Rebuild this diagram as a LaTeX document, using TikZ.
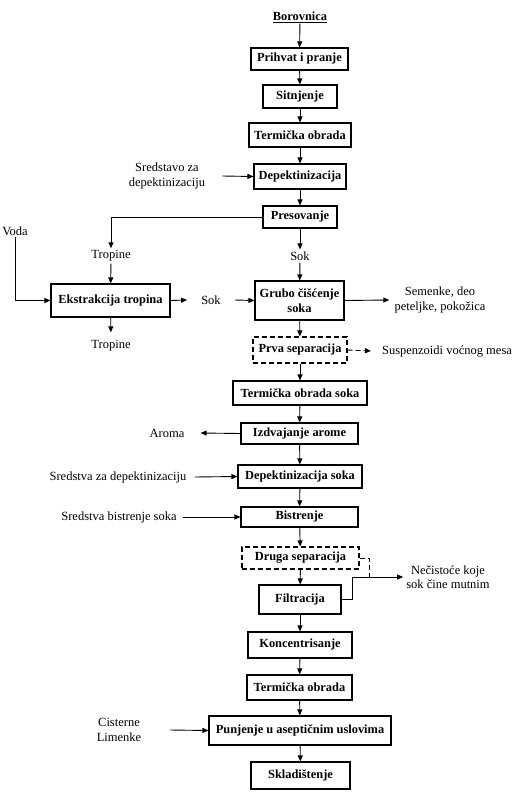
\documentclass[tikz,border=0pt]{standalone}
\usepackage{fontspec}
\setmainfont{Liberation Serif}
\usetikzlibrary{arrows.meta}
\begin{document}
\begin{tikzpicture}[x=1pt,y=-1pt,
  every node/.style={font=\fontsize{12.5pt}{14.5pt}\selectfont, inner sep=0pt, align=center},
  box/.style={draw, line width=1.1pt, font=\fontsize{12.4pt}{14.5pt}\selectfont\bfseries},
  dbox/.style={box, dash pattern=on 5pt off 3pt},
  lbl/.style={inner ysep=1pt},
  arr/.style={line width=0.9pt, -{Triangle[length=6pt,width=5pt]}},
  ln/.style={line width=0.9pt},
]
\useasboundingbox (0,0) rectangle (519,792);
% boxes
\node[font=\fontsize{12.4pt}{14.5pt}\selectfont\bfseries, inner sep=1pt] (boro) at (300,17) {\underline{Borovnica}};
\node[box, minimum width=97pt, minimum height=22pt] (prihvat) at (299.5,59) {Prihvat i pranje};
\node[box, minimum width=74pt, minimum height=23pt] (sitn) at (300,96.5) {Sitnjenje};
\node[box, minimum width=102pt, minimum height=24pt] (term1) at (300,135) {Termička obrada};
\node[box, minimum width=92pt, minimum height=25pt] (dep) at (300,176.5) {Depektinizacija};
\node[box, minimum width=74pt, minimum height=22pt] (pres) at (300,217) {Presovanje};
\node[box, minimum width=119pt, minimum height=33pt] (ekstr) at (110.5,300.5) {Ekstrakcija tropina};
\node[box, minimum width=89pt, minimum height=39pt] (grubo) at (299.5,300.5) {Grubo čišćenje\\soka};
\node[dbox, minimum width=94pt, minimum height=26pt] (prva) at (300,350) {Prva separacija};
\node[box, minimum width=134pt, minimum height=24pt] (tsoka) at (300,393) {Termička obrada soka};
\node[box, minimum width=117pt, minimum height=21pt] (izdv) at (299.5,433.5) {Izdvajanje arome};
\node[box, minimum width=124pt, minimum height=23pt] (dsoka) at (300,476.5) {Depektinizacija soka};
\node[box, minimum width=117pt, minimum height=20pt] (bist) at (299.5,517) {Bistrenje};
\node[dbox, minimum width=117pt, minimum height=22pt] (druga) at (300.5,558) {Druga separacija};
\node[box, minimum width=82pt, minimum height=29pt] (filt) at (300,599.5) {Filtracija};
\node[box, minimum width=104pt, minimum height=26pt] (konc) at (300,645) {Koncentrisanje};
\node[box, minimum width=105pt, minimum height=25pt] (term2) at (299.5,687.5) {Termička obrada};
\node[box, minimum width=182pt, minimum height=29pt] (punj) at (300,730.5) {Punjenje u aseptičnim uslovima};
\node[box, minimum width=99pt, minimum height=27pt] (skla) at (300.5,775.5) {Skladištenje};
% labels
\node[inner xsep=17pt] (sredz) at (167,176) {Sredstavo za\\depektinizaciju};
\node[lbl] (voda) at (15,231) {Voda};
\node[inner ysep=2pt] (trop1) at (111,256) {Tropine};
\node[inner ysep=2pt] (sok2) at (300,256) {Sok};
\node[inner ysep=8pt] (trop2) at (111,346) {Tropine};
\node[inner xsep=14pt] (sok1) at (211,300) {Sok};
\node[inner xsep=5pt] (sem) at (440,300) {Semenke, deo\\peteljke, pokožica};
\node[inner xsep=11pt] (susp) at (447,351) {Suspenzoidi voćnog mesa};
\node[inner xsep=16pt] (aroma) at (167,433) {Aroma};
\node[inner xsep=8pt] (sredd) at (118,477) {Sredstva za depektinizaciju};
\node[inner xsep=6pt] (sredb) at (119,517) {Sredstva bistrenje soka};
\node[inner xsep=3pt] (nec) at (448,577) {Nečistoće koje\\sok čine mutnim};
\node[inner xsep=29pt] (cist) at (119,730) {Cisterne\\Limenke};
% connectors
\draw[arr] (boro) -- (prihvat);
\draw[arr] (prihvat) -- (sitn);
\draw[arr] (sitn) -- (term1);
\draw[arr] (term1) -- (dep);
\draw[arr] (sredz.east) -- (dep.west);
\draw[arr] (dep) -- (pres);
\draw[arr] (pres.west) -| (trop1.north);
\draw[arr] (trop1) -- (ekstr);
\draw[arr] (voda.south) |- (ekstr.west);
\draw[arr] (ekstr) -- (trop2);
\draw[arr] (ekstr.east) -- (sok1.west);
\draw[arr] (sok1.east) -- (grubo.west);
\draw[arr] (pres) -- (sok2);
\draw[arr] (sok2) -- (grubo);
\draw[arr] (grubo.east) -- (sem.west);
\draw[arr] (grubo) -- (prva);
\draw[arr, dash pattern=on 5pt off 3pt] (prva.east) -- (susp.west);
\draw[arr] (prva) -- (tsoka);
\draw[arr] (tsoka) -- (izdv);
\draw[arr] (izdv.west) -- (aroma.east);
\draw[arr] (izdv) -- (dsoka);
\draw[arr] (sredd.east) -- (dsoka.west);
\draw[arr] (dsoka) -- (bist);
\draw[arr] (sredb.east) -- (bist.west);
\draw[arr] (bist) -- (druga);
\draw[arr] (druga) -- (filt);
\coordinate (dj) at (369,577);
\coordinate (fk) at (352,577);
\draw[ln, dash pattern=on 5pt off 3pt] (druga.east) -| (dj);
\draw[arr] (filt.east) -| (fk) -- (nec.west);
\draw[arr] (filt) -- (konc);
\draw[arr] (konc) -- (term2);
\draw[arr] (term2) -- (punj);
\draw[arr] (cist.east) -- (punj.west);
\draw[arr] (punj) -- (skla);
\end{tikzpicture}
\end{document}
